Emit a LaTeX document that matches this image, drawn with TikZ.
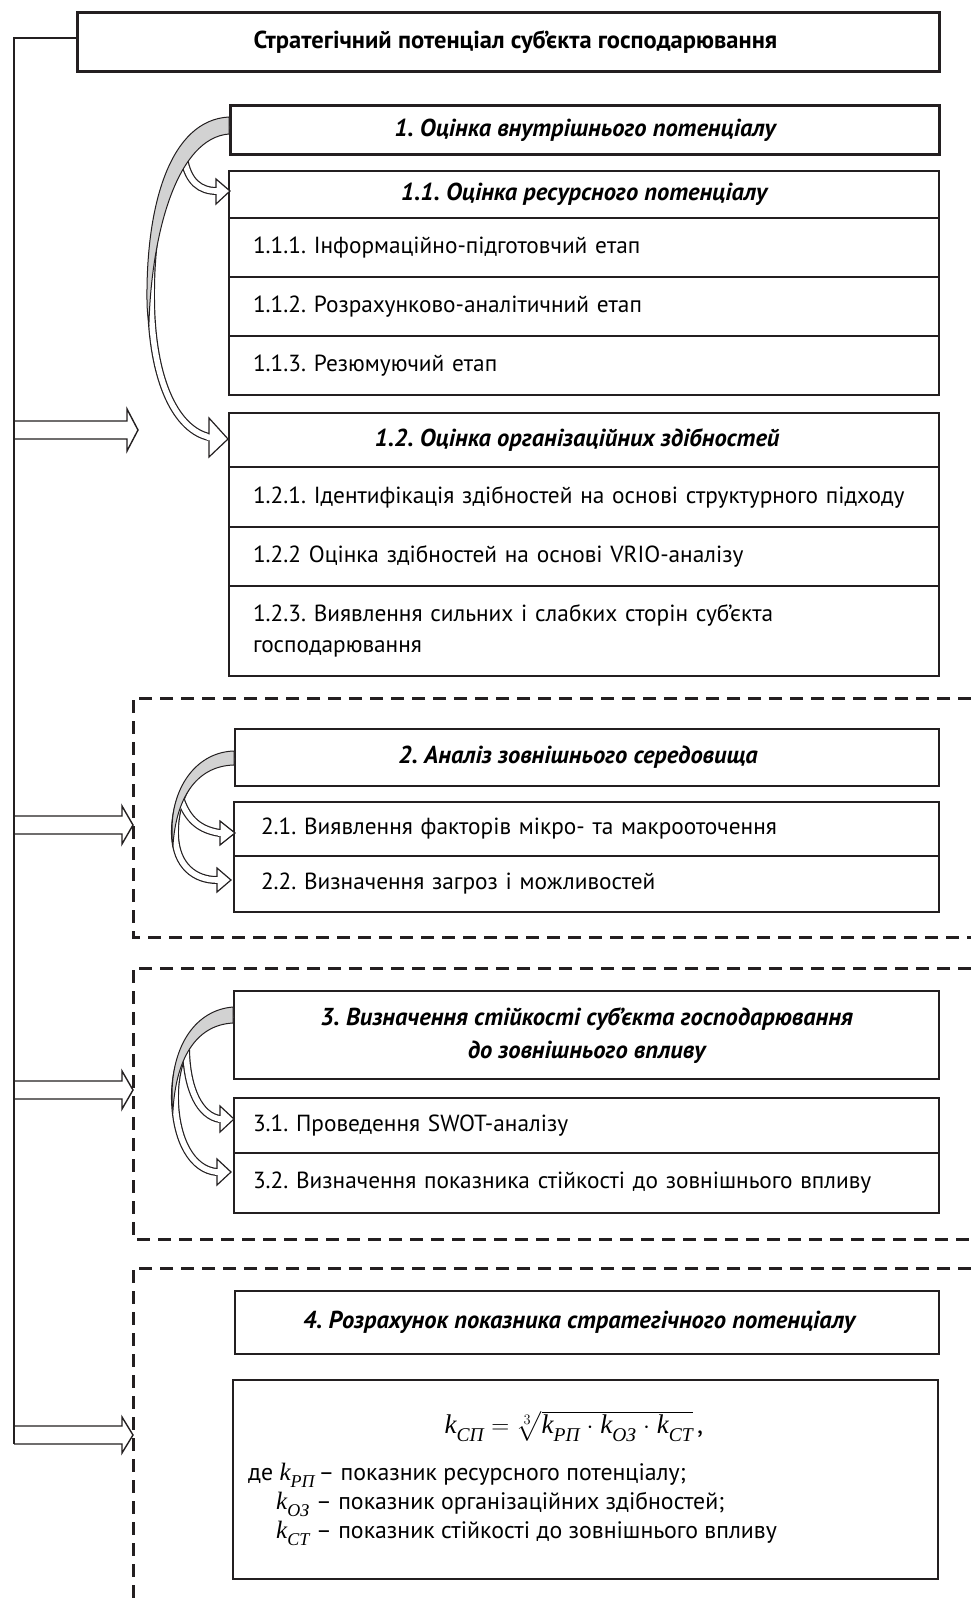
\documentclass[tikz,border=0pt]{standalone}
\usepackage{exscale}
\usepackage{fontspec}
\setmainfont{PT Sans}
\newfontfamily\tms{Liberation Serif}
\frenchspacing
\definecolor{ink}{HTML}{231F20}
\definecolor{band}{HTML}{D2D2D2}
\tikzset{
  hd/.style={draw=ink, line width=2.2pt, anchor=north west, inner sep=0pt, align=center,
    font=\fontsize{24.5}{33}\selectfont\bfseries\itshape},
  cellbox/.style={draw=ink, line width=2pt, anchor=north west, inner ysep=0pt, align=left,
    font=\fontsize{23.3}{31}\selectfont},
  dsh/.style={draw=ink, line width=3pt, dash pattern=on 13pt off 8pt},
  arr/.style={draw=ink, line width=1.4pt, fill=white, line join=miter},
  sho/.style={draw=ink, line width=8pt},
  shi/.style={draw=white, line width=5.6pt},
  cres/.style={draw=ink, line width=1pt, fill=band},
  ftxt/.style={anchor=base west, inner sep=0pt, font=\fontsize{23.8}{25}\selectfont},
}
\newcommand{\kk}[1]{{\tms\itshape k}\raisebox{-0.3em}{\fontsize{18}{18}\selectfont\tms\itshape #1}}
\newcommand{\kb}[1]{{\tms\itshape k}\raisebox{-0.3em}{\fontsize{19.5}{19.5}\selectfont\tms\itshape #1}}
\begin{document}
\begin{tikzpicture}[x=1pt,y=-1pt]
\useasboundingbox (0,0) rectangle (971,1598);
% dashed regions
\draw[dsh] (971,698) -- (133,698) -- (133,937) -- (971,937);
\draw[dsh] (971,968) -- (133,968) -- (133,1239) -- (971,1239);
\draw[dsh] (971,1268) -- (133,1268) -- (133,1598);
% top box
\node[draw=ink, line width=3pt, anchor=north west, inner sep=0pt, minimum width=862pt, minimum height=59pt,
  font=\fontsize{24.5}{25}\selectfont\bfseries] (T) at (76,11) {\hspace*{14pt}Стратегічний потенціал суб’єкта господарювання};
% block 1
\node[hd, line width=3pt, minimum width=709pt, minimum height=49pt] (b1) at (229,104) {1. Оцінка внутрішнього потенціалу};
\node[hd, minimum width=710pt, minimum height=47pt] (b11) at (228,170) {1.1. Оцінка ресурсного потенціалу};
\node[cellbox, minimum height=59pt, text width=662pt, inner xsep=24pt] (c111) at (228,217) {1.1.1. Інформаційно-підготовчий етап};
\node[cellbox, minimum height=59pt, text width=662pt, inner xsep=24pt] (c112) at (228,276) {1.1.2. Розрахунково-аналітичний етап};
\node[cellbox, minimum height=59pt, text width=662pt, inner xsep=24pt] (c113) at (228,335) {1.1.3. Резюмуючий етап};
\node[hd, minimum width=710pt, minimum height=54pt] (b12) at (228,412) {1.2. Оцінка організаційних здібностей\hspace*{14pt}};
\node[cellbox, minimum height=60pt, text width=662pt, inner xsep=24pt] (c121) at (228,466) {1.2.1. Ідентифікація здібностей на основі структурного підходу};
\node[cellbox, minimum height=59pt, text width=662pt, inner xsep=24pt] (c122) at (228,526) {1.2.2 Оцінка здібностей на основі VRIO-аналізу};
\node[cellbox, minimum height=90pt, text width=662pt, inner xsep=24pt] (c123) at (228,585) {1.2.3. Виявлення сильних і слабких сторін суб’єкта\\господарювання};
% block 2
\node[hd, minimum width=704pt, minimum height=57pt] (b2) at (234,728) {2. Аналіз зовнішнього середовища\hspace*{18pt}};
\node[cellbox, minimum height=54pt, text width=651pt, inner xsep=27pt] (c21) at (233,801) {2.1. Виявлення факторів мікро- та макрооточення};
\node[cellbox, minimum height=56pt, text width=651pt, inner xsep=27pt] (c22) at (233,855) {2.2. Визначення загроз і можливостей};
% block 3
\node[hd, minimum width=705pt, minimum height=88pt] (b3) at (233,990) {3. Визначення стійкості суб’єкта господарювання\\до зовнішнього впливу};
\node[cellbox, minimum height=55pt, text width=667pt, inner xsep=19pt] (c31) at (233,1097) {3.1. Проведення SWOT-аналізу};
\node[cellbox, minimum height=60pt, text width=667pt, inner xsep=19pt] (c32) at (233,1152) {3.2. Визначення показника стійкості до зовнішнього впливу};
% block 4
\node[hd, minimum width=704pt, minimum height=63pt] (b4) at (234,1290) {4. Розрахунок показника стратегічного потенціалу\hspace*{16pt}};
\node[draw=ink, line width=2pt, anchor=north west, inner sep=0pt, minimum width=705pt, minimum height=199pt] (fb) at (232,1379) {};
\node[anchor=base, inner sep=0pt, font=\fontsize{27}{30}\selectfont] (f0) at (574,1433)
  {\kb{СП}\;$=$\;$\sqrt[3]{\hbox{\kb{РП}$\;\cdot\;$\kb{ОЗ}$\;\cdot\;$\kb{СТ}}}$\,,};
\node[ftxt] (f1) at (248,1480) {де \fontsize{25}{25}\selectfont\kk{РП}\fontsize{23.8}{25}\selectfont\,– показник ресурсного потенціалу;};
\node[ftxt, font=\fontsize{25}{25}\selectfont] (f2k) at (276,1509) {\kk{ОЗ}};
\node[ftxt] (f2) at (316,1509) {– показник організаційних здібностей;};
\node[ftxt, font=\fontsize{25}{25}\selectfont] (f3k) at (276,1538) {\kk{СТ}};
\node[ftxt] (f3) at (316,1538) {– показник стійкості до зовнішнього впливу};
% left spine
\coordinate (lt) at (14,38);
\coordinate (lb) at (14,1444);
\draw[ink, line width=1.5pt] (T.west |- lt) -- (lt) -- (lb);
% hollow straight arrows
\draw[arr] (14,421) -- (127,421) -- (127,409) -- (138,430) -- (127,451) -- (127,439) -- (14,439);
\draw[arr] (14,816) -- (122,816) -- (122,806) -- (133,825) -- (122,844) -- (122,834) -- (14,834);
\draw[arr] (14,1081) -- (122,1081) -- (122,1071) -- (133,1090) -- (122,1109) -- (122,1099) -- (14,1099);
\draw[arr] (14,1426) -- (122,1426) -- (122,1417) -- (133,1435) -- (122,1453) -- (122,1444) -- (14,1444);
\draw[ink, line width=1.5pt] (lt) -- (lb);
% ---- curved arrows, group 1
\draw[sho] (229,126) .. controls (172,128) and (150,210) .. (151,300) .. controls (152,385) and (178,430) .. (209,437);
\draw[sho] (184,158) .. controls (188,182) and (200,191) .. (217,191);
\draw[shi] (229,126) .. controls (172,128) and (150,210) .. (151,300) .. controls (152,385) and (178,430) .. (209,437);
\draw[shi] (184,158) .. controls (188,182) and (200,191) .. (217,191);
\draw[arr, line width=1.2pt] (209,418) -- (228,439) -- (209,457) -- cycle;
\draw[arr, line width=1.2pt] (216,179) -- (230,191) -- (216,204) -- cycle;
\draw[shi] (207,437) -- (214,438);
\draw[shi] (214,191) -- (219,191);
\draw[cres] (229,117) .. controls (170,120) and (146,205) .. (147,300) .. controls (147,310) and (148,318) .. (149,322)
  .. controls (152,230) and (178,138) .. (229,134) -- cycle;
% ---- group 2
\draw[sho] (234,758) .. controls (195,760) and (174,795) .. (175,835) .. controls (176,866) and (195,880) .. (217,880);
\draw[sho] (181,800) .. controls (188,820) and (200,830) .. (220,833);
\draw[shi] (234,758) .. controls (195,760) and (174,795) .. (175,835) .. controls (176,866) and (195,880) .. (217,880);
\draw[shi] (181,800) .. controls (188,820) and (200,830) .. (220,833);
\draw[arr, line width=1.2pt] (217,868) -- (231,880) -- (217,892) -- cycle;
\draw[arr, line width=1.2pt] (220,821) -- (235,833) -- (220,845) -- cycle;
\draw[shi] (215,880) -- (220,880);
\draw[shi] (218,833) -- (223,833);
\draw[cres] (234,751) .. controls (198,752) and (172,785) .. (172,830) .. controls (172,836) and (172,841) .. (173,845)
  .. controls (176,800) and (195,766) .. (234,765) -- cycle;
% ---- group 3
\draw[sho] (233,1015) .. controls (195,1018) and (174,1055) .. (175,1100) .. controls (176,1140) and (192,1170) .. (217,1172);
\draw[sho] (186,1050) .. controls (187,1090) and (200,1116) .. (220,1119);
\draw[shi] (233,1015) .. controls (195,1018) and (174,1055) .. (175,1100) .. controls (176,1140) and (192,1170) .. (217,1172);
\draw[shi] (186,1050) .. controls (187,1090) and (200,1116) .. (220,1119);
\draw[arr, line width=1.2pt] (217,1159) -- (231,1172) -- (217,1185) -- cycle;
\draw[arr, line width=1.2pt] (220,1106) -- (234,1119) -- (220,1132) -- cycle;
\draw[shi] (215,1172) -- (220,1172);
\draw[shi] (218,1119) -- (223,1119);
\draw[cres] (233,1007) .. controls (196,1010) and (172,1045) .. (172,1095) .. controls (172,1100) and (172,1105) .. (173,1110)
  .. controls (176,1060) and (195,1025) .. (233,1023) -- cycle;
\end{tikzpicture}
\end{document}
